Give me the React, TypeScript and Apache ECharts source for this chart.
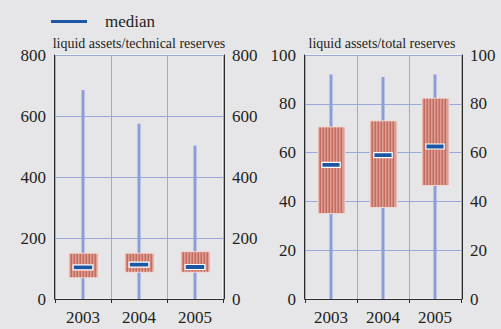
import React, { useEffect, useRef } from 'react';
import * as echarts from 'echarts';

const years = ['2003', '2004', '2005'];

// liquid assets / technical reserves
const techMin = [0, 0, 0];
const techQ1 = [70, 88, 88];
const techMed = [104, 113, 105];
const techQ3 = [150, 150, 155];
const techMax = [685, 575, 503];

// liquid assets / total reserves
const totMin = [0, 0, 0];
const totQ1 = [35, 37.5, 46.5];
const totMed = [55, 59, 62.5];
const totQ3 = [70.5, 73, 82.3];
const totMax = [92, 91, 92];

const leftTicks = { min: 0, max: 800, interval: 200 };
const rightTicks = { min: 0, max: 100, interval: 20 };

const titles = ['liquid assets/technical reserves', 'liquid assets/total reserves'];

const FONT = 'Liberation Serif';
const TXT = '#231f20';
const GRIDLINE = '#9aa9dc';
const AXIS = '#2a2a2a';

function boxData(mins: number[], q1s: number[], meds: number[], q3s: number[], maxs: number[]) {
  return years.map((_, i) => [i, mins[i], q1s[i], meds[i], q3s[i], maxs[i]]);
}

const renderBox = (_params: any, api: any) => {
  const i = api.value(0);
  const lo = api.coord([i, api.value(1)]);
  const cx = lo[0];
  const yLo = lo[1];
  const yQ1 = api.coord([i, api.value(2)])[1];
  const yMed = api.coord([i, api.value(3)])[1];
  const yQ3 = api.coord([i, api.value(4)])[1];
  const yHi = api.coord([i, api.value(5)])[1];
  const cw = api.size([1, 0])[0];
  const bw = Math.round(cw * 0.52);
  const x0 = Math.round(cx - bw / 2);
  const children: any[] = [];
  children.push({
    type: 'line',
    shape: { x1: cx, y1: yLo, x2: cx, y2: yHi },
    style: { stroke: '#8c9ed8', lineWidth: 3 },
  });
  children.push({
    type: 'rect',
    shape: { x: x0, y: yQ3, width: bw, height: yQ1 - yQ3 },
    style: { fill: '#dc9e93', stroke: '#f3d8d2', lineWidth: 1 },
  });
  for (let sx = x0 + 1.5; sx < x0 + bw - 1.5; sx += 3) {
    children.push({
      type: 'rect',
      shape: { x: sx, y: yQ3 + 0.5, width: 1.5, height: yQ1 - yQ3 - 1 },
      style: { fill: '#c66b5f' },
    });
  }
  const mw = bw * 0.68;
  children.push({
    type: 'rect',
    shape: { x: cx - mw / 2, y: yMed - 2.5, width: mw, height: 5 },
    style: { fill: '#1c57a3', stroke: '#ffffff', lineWidth: 1.2 },
  });
  return { type: 'group', children };
};

function xAxisFor(gridIndex: number) {
  return {
    type: 'category',
    gridIndex,
    data: years,
    boundaryGap: true,
    offset: 2,
    axisLine: { show: true, lineStyle: { color: AXIS, width: 1 } },
    axisTick: { show: true, length: 4, interval: 0, lineStyle: { color: AXIS } },
    axisLabel: { color: TXT, fontFamily: FONT, fontSize: 17, margin: 8, interval: 0 },
    splitLine: { show: true, interval: 0, lineStyle: { color: GRIDLINE, width: 1 } },
  };
}

function yAxisFor(gridIndex: number, pos: 'left' | 'right', ticks: any, split: boolean) {
  return {
    type: 'value',
    gridIndex,
    position: pos,
    min: ticks.min,
    max: ticks.max,
    interval: ticks.interval,
    offset: 1,
    axisLine: { show: true, lineStyle: { color: AXIS, width: 1 } },
    axisTick: { show: false },
    axisLabel: { color: TXT, fontFamily: FONT, fontSize: 17, margin: 8 },
    splitLine: { show: split, lineStyle: { color: GRIDLINE, width: 1 } },
  };
}

function titleFor(i: number, cx: number) {
  return {
    text: titles[i],
    left: cx,
    top: 31,
    textAlign: 'center',
    textStyle: { fontFamily: FONT, fontSize: 14, fontWeight: 'normal', color: TXT },
  };
}

export default function App() {
  const ref = useRef<HTMLDivElement>(null);
  useEffect(() => {
    if (!ref.current) return;
    const chart = echarts.init(ref.current, null, { renderer: 'svg' });
    chart.setOption({
      animation: false,
      backgroundColor: '#e6e6e8',
      textStyle: { fontFamily: FONT },
      title: [titleFor(0, 134), titleFor(1, 377)],
      legend: {
        data: ['median'],
        left: 46,
        top: 8,
        icon: 'rect',
        itemWidth: 36,
        itemHeight: 3,
        textStyle: { fontFamily: FONT, fontSize: 17, color: TXT, padding: [0, 0, 0, 13] },
      },
      grid: [
        { left: 55, top: 55, width: 168, height: 244, show: true, borderColor: '#ffffff', borderWidth: 1, backgroundColor: 'transparent' },
        { left: 305, top: 55, width: 156, height: 244, show: true, borderColor: '#ffffff', borderWidth: 1, backgroundColor: 'transparent' },
      ],
      xAxis: [xAxisFor(0), xAxisFor(1)],
      yAxis: [
        yAxisFor(0, 'left', leftTicks, true),
        yAxisFor(0, 'right', leftTicks, false),
        yAxisFor(1, 'left', rightTicks, true),
        yAxisFor(1, 'right', rightTicks, false),
      ],
      series: [
        {
          type: 'custom',
          name: 'tech',
          xAxisIndex: 0,
          yAxisIndex: 0,
          renderItem: renderBox,
          data: boxData(techMin, techQ1, techMed, techQ3, techMax),
          encode: { x: 0, y: [1, 2, 3, 4, 5] },
          silent: true,
        },
        {
          type: 'custom',
          name: 'total',
          xAxisIndex: 1,
          yAxisIndex: 2,
          renderItem: renderBox,
          data: boxData(totMin, totQ1, totMed, totQ3, totMax),
          encode: { x: 0, y: [1, 2, 3, 4, 5] },
          silent: true,
        },
        {
          type: 'line',
          name: 'median',
          xAxisIndex: 0,
          yAxisIndex: 0,
          data: [],
          itemStyle: { color: '#1c57a3' },
          lineStyle: { color: '#1c57a3' },
        },
      ],
    });
    return () => chart.dispose();
  }, []);
  return <div ref={ref} style={{ position: 'fixed', left: 0, top: 0, width: 501, height: 329 }} />;
}
